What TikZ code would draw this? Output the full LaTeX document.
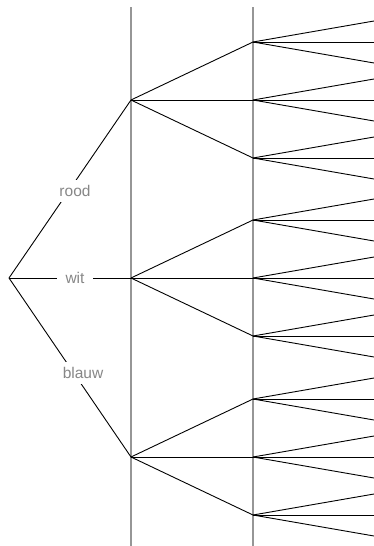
\documentclass[tikz,border=0pt]{standalone}
\usepackage{fontspec}
\setmainfont{Liberation Sans}
\definecolor{guidegray}{RGB}{150,150,150}
\definecolor{labelgray}{RGB}{135,135,135}
\begin{document}
\begin{tikzpicture}[x=1pt,y=-1pt,
  branch/.style={black,line width=0.9pt},
  guide/.style={guidegray,line width=1.2pt},
  lbl/.style={fill=white,text=labelgray,inner xsep=9pt,inner ysep=5pt,
    font=\fontsize{15.5}{18}\selectfont}]
\useasboundingbox (0,0) rectangle (374,546);

% root and first level
\coordinate (root) at (9,278);
\coordinate (a) at (131,100);
\coordinate (b) at (131,278);
\coordinate (c) at (131,457);

% guide lines
\coordinate (g1t) at (131,7);
\coordinate (g1b) at (131,546);
\coordinate (g2t) at (253,7);
\coordinate (g2b) at (253,546);
\draw[guide] (g1t) -- (g1b);
\draw[guide] (g2t) -- (g2b);

% first branches
\draw[branch] (root) -- (a);
\draw[branch] (root) -- (b);
\draw[branch] (root) -- (c);

% second and third level
\foreach \p/\y in {a/100,b/278,c/457}{
  \foreach \k/\d in {1/-58,2/0,3/58}{
    \coordinate (\p\k) at (253,\y+\d);
    \draw[branch] (\p) -- (\p\k);
    \foreach \m/\e in {1/-21,2/0,3/21}{
      \coordinate (\p\k\m) at (374,\y+\d+\e);
      \draw[branch] (\p\k) -- (\p\k\m);
    }
  }
}

% labels
\node[lbl] (rood) at (75,191) {rood};
\node[lbl] (wit) at (75,278) {wit};
\node[lbl] (blauw) at (83,373) {blauw};

\end{tikzpicture}
\end{document}
